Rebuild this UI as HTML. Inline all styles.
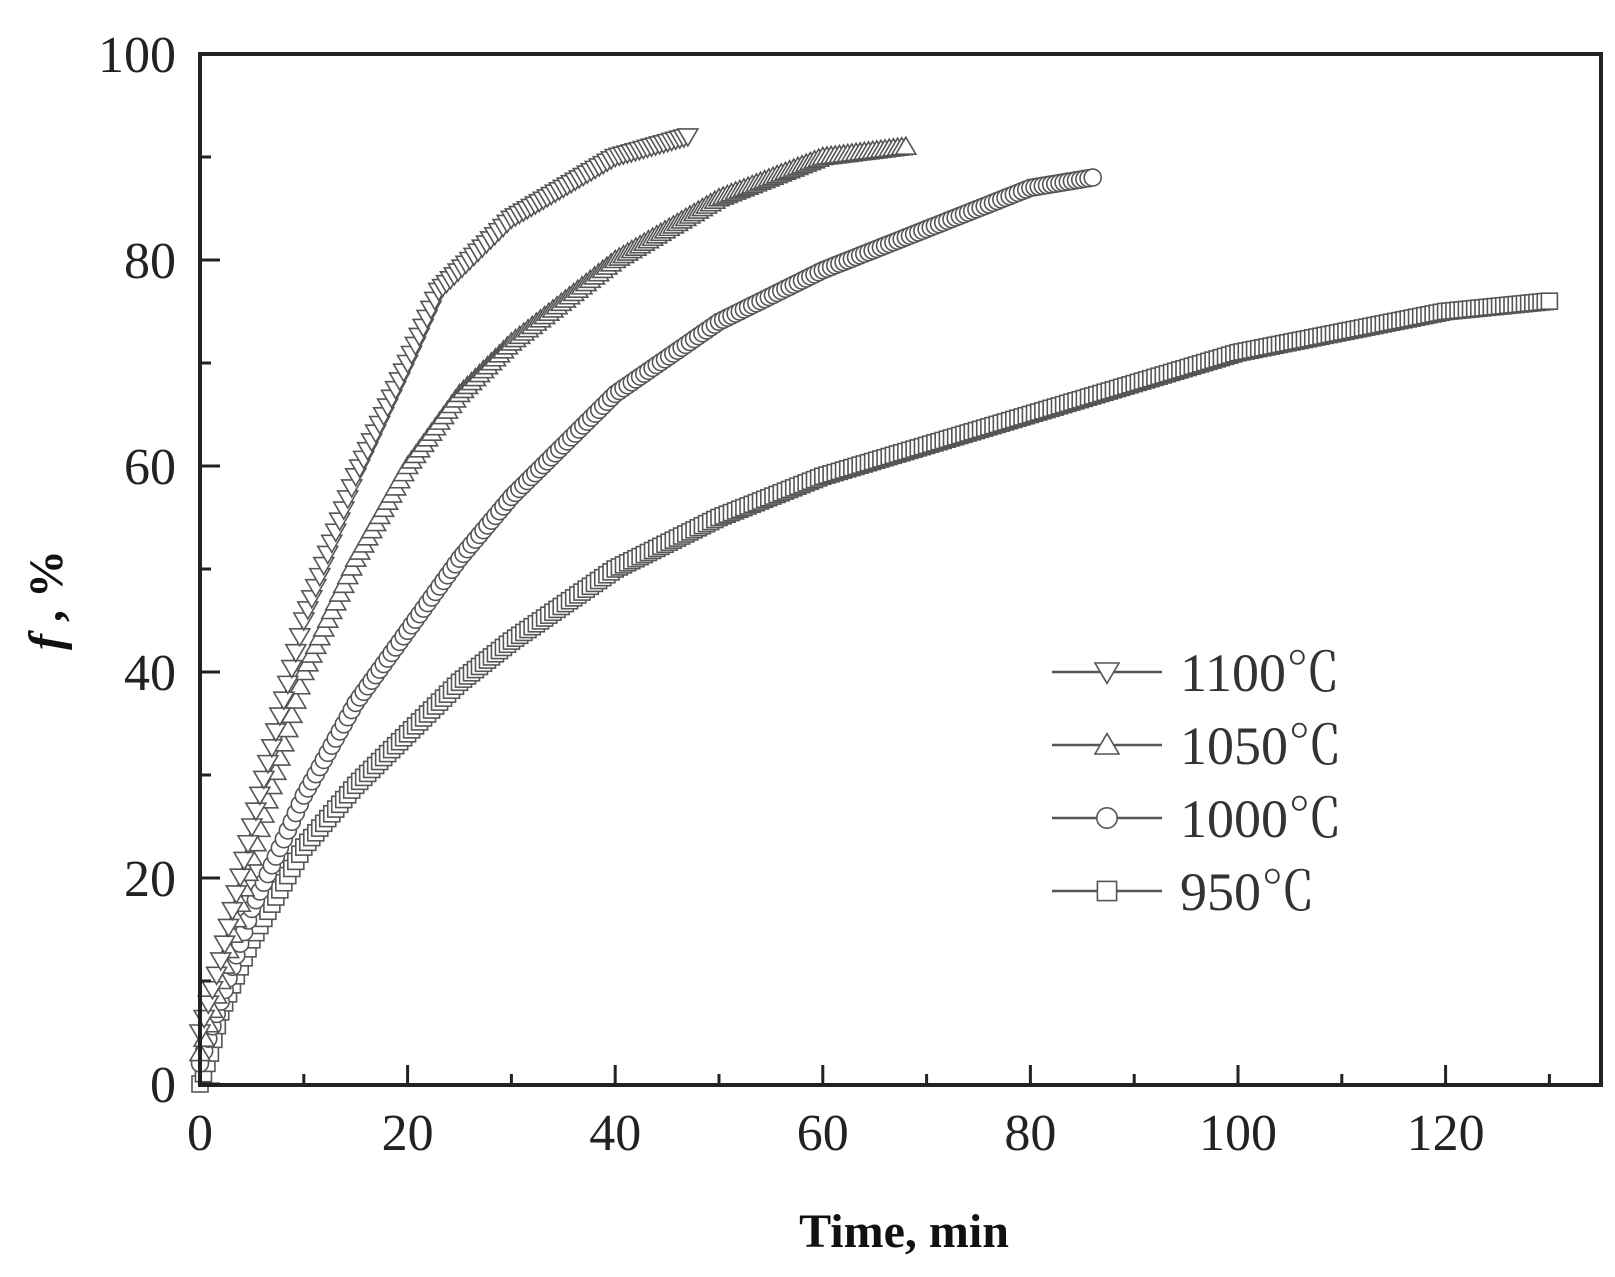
<!DOCTYPE html>
<html><head><meta charset="utf-8"><style>
html,body{margin:0;padding:0;background:#fff;}
svg{display:block;font-family:"Liberation Serif","Noto Serif CJK SC",serif;}
</style></head><body>
<svg id="s" width="1615" height="1277" viewBox="0 0 1615 1277" xmlns="http://www.w3.org/2000/svg">
<rect width="1615" height="1277" fill="#fff"/>
<g id="data"></g>
<rect x="200" y="54" width="1401" height="1031" fill="none" stroke="#222" stroke-width="4"/>
<g id="ticks" stroke="#222" stroke-width="3"></g>
<g font-size="52" fill="#222" text-anchor="end" id="yl"></g>
<g font-size="52" fill="#222" text-anchor="middle" id="xl"></g>
<text x="904" y="1247" font-size="48" font-weight="bold" text-anchor="middle" fill="#111">Time, min</text>
<text transform="translate(62,600) rotate(-90)" font-size="48" font-weight="bold" text-anchor="middle" fill="#111"><tspan font-style="italic">f</tspan> , %</text>
<g id="leg"></g>
</svg>
<script>
var NS="http://www.w3.org/2000/svg";
function X(t){return 200+t*10.38;}
function Y(f){return 1084-f*10.3;}
function el(p,tag,a){var e=document.createElementNS(NS,tag);for(var k in a)e.setAttribute(k,a[k]);p.appendChild(e);return e;}
var tk=document.getElementById('ticks');
for(var v=0;v<=130;v+=10){var L=(v%20==0)?20:11;el(tk,'line',{x1:X(v),y1:1085,x2:X(v),y2:1085-L});}
for(var v=0;v<=100;v+=10){var L=(v%20==0)?20:11;el(tk,'line',{x1:200,y1:Y(v),x2:200+L,y2:Y(v)});}
var yl=document.getElementById('yl');
for(var v=0;v<=100;v+=20){var t=el(yl,'text',{x:176,y:Y(v)+18});t.textContent=v;}
var xl=document.getElementById('xl');
for(var v=0;v<=120;v+=20){var t=el(xl,'text',{x:X(v),y:1150});t.textContent=v;}
function marker(g,type,x,y,r){
 var a={fill:'#fff',stroke:'#555','stroke-width':1.6};
 if(type=='dn'){a.points=(x-r)+','+(y-r*0.75)+' '+(x+r)+','+(y-r*0.75)+' '+x+','+(y+r*0.95);el(g,'polygon',a);}
 else if(type=='up'){a.points=(x-r)+','+(y+r*0.75)+' '+(x+r)+','+(y+r*0.75)+' '+x+','+(y-r*0.95);el(g,'polygon',a);}
 else if(type=='c'){a.cx=x;a.cy=y;a.r=r*0.85;el(g,'circle',a);}
 else {a.x=x-r*0.8;a.y=y-r*0.8;a.width=r*1.6;a.height=r*1.6;el(g,'rect',a);}
}
var series=[
 {t:'sq',p:[[0,0],[1,3],[2,7],[5,14],[10,23],[15,29],[20,34],[25,39],[30,43],[40,50],[50,55],[60,59],[70,62],[80,65],[90,68],[100,71],[110,73],[120,75],[130,76]]},
 {t:'c',p:[[0,2],[2,8],[5,17],[10,28],[15,37],[20,44],[25,51],[30,57],[35,62],[40,67],[50,74],[60,79],[70,83],[80,87],[86,88]]},
 {t:'up',p:[[0,3],[2,10],[5,22],[10,40],[15,51],[20,60],[25,67],[30,72],[40,80],[50,86],[60,90],[68,91]]},
 {t:'dn',p:[[0,5],[2,12],[5,25],[10,45],[15,59],[20,70],[23,77],[26,80],[30,84],[35,87],[40,90],[47,92]]}
];
var dg=document.getElementById('data');
series.forEach(function(s){
 var g=el(dg,'g',{});var p=s.p;
 var pts=[];
 for(var i=0;i<p.length-1;i++){var a=p[i],b=p[i+1];var n=Math.max(3,Math.round((b[0]-a[0])*2.5));
  for(var j=0;j<n;j++){var u=j/n;pts.push([a[0]+(b[0]-a[0])*u,a[1]+(b[1]-a[1])*u]);}}
 pts.push(p[p.length-1]);
 var d='M'+pts.map(function(q){return X(q[0]).toFixed(1)+','+Y(q[1]).toFixed(1);}).join('L');
 el(g,'path',{d:d,fill:'none',stroke:'#333','stroke-width':2});
 pts.forEach(function(q){marker(g,s.t,X(q[0]),Y(q[1]),10);});
});
var lg=document.getElementById('leg');
var labs=[['dn','1100℃'],['up','1050℃'],['c','1000℃'],['sq','950℃']];
labs.forEach(function(l,i){var y=672+i*73;
 el(lg,'line',{x1:1052,y1:y,x2:1162,y2:y,stroke:'#555','stroke-width':2.5});
 marker(lg,l[0],1107,y,12);
 var t=el(lg,'text',{x:1180,y:y+19,'font-size':54,fill:'#333'});t.textContent=l[1];
});
</script>
</body></html>
